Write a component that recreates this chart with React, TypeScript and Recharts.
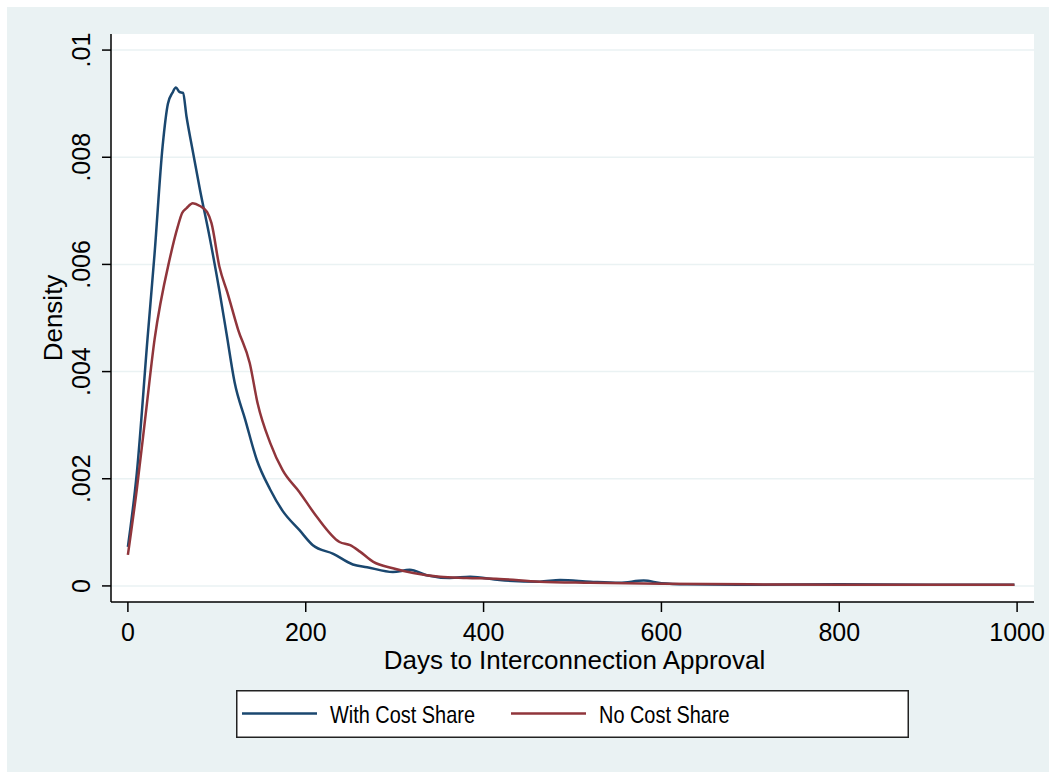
import React from 'react'
import { LineChart, Line, XAxis, YAxis, CartesianGrid, Legend, Label } from 'recharts'

// kernel density estimates
const withCostShare = [
  { days: 0, density: 0.00073 }, { days: 10, density: 0.0021 }, { days: 22, density: 0.0046 },
  { days: 30, density: 0.0062 }, { days: 39, density: 0.0082 }, { days: 45, density: 0.009 },
  { days: 50, density: 0.0092 }, { days: 54, density: 0.0093 }, { days: 58, density: 0.00922 },
  { days: 62, density: 0.0092 }, { days: 66, density: 0.00875 }, { days: 72, density: 0.0082 },
  { days: 81, density: 0.0074 }, { days: 92, density: 0.0065 }, { days: 103, density: 0.0055 },
  { days: 111, density: 0.0047 }, { days: 120, density: 0.0038 }, { days: 132, density: 0.0031 },
  { days: 145, density: 0.00235 }, { days: 160, density: 0.0018 }, { days: 174, density: 0.0014 },
  { days: 193, density: 0.00104 }, { days: 208, density: 0.00076 }, { days: 231, density: 0.0006 },
  { days: 253, density: 0.0004 }, { days: 269, density: 0.00035 }, { days: 298, density: 0.00026 },
  { days: 317, density: 0.0003 }, { days: 336, density: 0.0002 }, { days: 362, density: 0.00015 },
  { days: 385, density: 0.00017 }, { days: 418, density: 0.00011 }, { days: 463, density: 0.00008 },
  { days: 486, density: 0.00011 }, { days: 520, density: 0.00008 }, { days: 553, density: 0.00006 },
  { days: 580, density: 0.0001 }, { days: 600, density: 0.00005 }, { days: 629, density: 0.00003 },
  { days: 700, density: 0.00002 }, { days: 800, density: 0.00003 }, { days: 900, density: 0.00002 },
  { days: 997, density: 0.00002 },
]

const noCostShare = [
  { days: 0, density: 0.00058 }, { days: 10, density: 0.0018 }, { days: 20, density: 0.0032 },
  { days: 30, density: 0.0046 }, { days: 47, density: 0.0061 }, { days: 56, density: 0.0067 },
  { days: 61, density: 0.00696 }, { days: 66, density: 0.00705 }, { days: 73, density: 0.00714 },
  { days: 81, density: 0.00709 }, { days: 89, density: 0.00698 }, { days: 94, density: 0.00677 },
  { days: 103, density: 0.00595 }, { days: 112, density: 0.00547 }, { days: 124, density: 0.00478 },
  { days: 137, density: 0.00416 }, { days: 146, density: 0.0034 }, { days: 160, density: 0.00267 },
  { days: 174, density: 0.00216 }, { days: 193, density: 0.00175 }, { days: 212, density: 0.0013 },
  { days: 238, density: 0.00082 }, { days: 250, density: 0.00076 }, { days: 261, density: 0.00064 },
  { days: 276, density: 0.00045 }, { days: 298, density: 0.00033 }, { days: 321, density: 0.00024 },
  { days: 351, density: 0.00017 }, { days: 381, density: 0.00015 }, { days: 418, density: 0.00013 },
  { days: 463, density: 0.00008 }, { days: 520, density: 0.00006 }, { days: 600, density: 0.00004 },
  { days: 700, density: 0.00003 }, { days: 800, density: 0.00002 }, { days: 900, density: 0.00002 },
  { days: 997, density: 0.00002 },
]

const seriesNames = ['With Cost Share', 'No Cost Share']
const xTicks = [0, 200, 400, 600, 800, 1000]
const yTicks = [0, 0.002, 0.004, 0.006, 0.008, 0.01]

const FONT = '"Liberation Sans", Arial, Helvetica, sans-serif'
const BG = '#EAF2F3'

const fmtY = (v: number) => (v === 0 ? '0' : v.toFixed(3).replace(/^0/, '').replace(/0$/, ''))

function YTick({ x, y, payload }: any) {
  return (
    <text
      transform={`translate(${x}, ${y}) rotate(-90)`}
      textAnchor="middle"
      fontSize={25}
      fontFamily={FONT}
      fill="#000"
    >
      {fmtY(payload.value)}
    </text>
  )
}

function YTitle({ viewBox }: any) {
  const cy = viewBox.y + viewBox.height / 2
  return (
    <text
      transform={`translate(${viewBox.x + viewBox.width - 49}, ${cy}) rotate(-90)`}
      textAnchor="middle"
      fontSize={26}
      fontFamily={FONT}
      fill="#000"
    >
      Density
    </text>
  )
}

function XTitle({ viewBox }: any) {
  return (
    <text
      x={viewBox.x + viewBox.width / 2 + 2}
      y={viewBox.y + 67}
      textAnchor="middle"
      fontSize={26}
      fontFamily={FONT}
      fill="#000"
    >
      Days to Interconnection Approval
    </text>
  )
}

// stata's legend font is condensed; squeeze the regular face horizontally
function LegendBox({ payload }: any) {
  const items = [...(payload ?? [])].sort(
    (a: any, b: any) => seriesNames.indexOf(a.value) - seriesNames.indexOf(b.value),
  )
  return (
    <svg width={673} height={48} style={{ display: 'block' }}>
      <rect x={0.75} y={0.75} width={671.5} height={46.5} fill="#fff" stroke="#222" strokeWidth={1.5} />
      {items.map((p: any, i: number) => {
        const x0 = 6 + i * 269
        return (
          <g key={p.value}>
            <line x1={x0} x2={x0 + 75} y1={23.5} y2={23.5} stroke={p.color} strokeWidth={2.5} />
            <text
              transform={`translate(${x0 + 88}, 33) scale(0.83, 1)`}
              fontSize={24}
              fontFamily={FONT}
              fill="#000"
            >
              {p.value}
            </text>
          </g>
        )
      })}
    </svg>
  )
}

export default function App() {
  return (
    <div style={{ position: 'absolute', left: 0, top: 0, width: 1049, height: 772, background: '#fff' }}>
      <div style={{ position: 'absolute', left: 7, top: 7, right: 0, bottom: 0, background: BG }} />
      <div style={{ position: 'absolute', left: 0, top: 0 }}>
        <LineChart width={1049} height={772} margin={{ top: 34, right: 15, bottom: 110, left: 51 }}>
          <CartesianGrid vertical={false} fill="#fff" stroke={BG} strokeWidth={1.5} horizontalValues={yTicks} />
          <XAxis
            type="number"
            dataKey="days"
            domain={[-19, 1019]}
            ticks={xTicks}
            height={60}
            allowDataOverflow
            tickSize={10}
            tickMargin={11}
            stroke="#000"
            strokeWidth={1.5}
            tick={{ fill: '#000', fontSize: 25, fontFamily: FONT }}
          >
            <Label content={<XTitle />} />
          </XAxis>
          <YAxis
            type="number"
            domain={[-0.0003, 0.0103]}
            ticks={yTicks}
            width={60}
            allowDataOverflow
            tickSize={9}
            tickMargin={12}
            stroke="#000"
            strokeWidth={1.5}
            tick={<YTick />}
          >
            <Label content={<YTitle />} />
          </YAxis>
          <Legend
            layout="horizontal"
            verticalAlign="middle"
            align="center"
            wrapperStyle={{ left: 236, top: 690, width: 673, height: 48 }}
            content={<LegendBox />}
          />
          <Line
            data={withCostShare}
            dataKey="density"
            name={seriesNames[0]}
            type="monotone"
            stroke="#1A476F"
            strokeWidth={2.5}
            dot={false}
            isAnimationActive={false}
          />
          <Line
            data={noCostShare}
            dataKey="density"
            name={seriesNames[1]}
            type="monotone"
            stroke="#90353B"
            strokeWidth={2.5}
            dot={false}
            isAnimationActive={false}
          />
        </LineChart>
      </div>
    </div>
  )
}
